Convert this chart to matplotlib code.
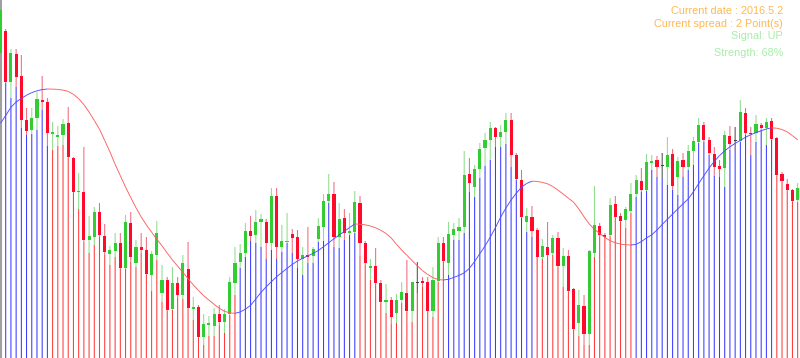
import numpy as np
import matplotlib.pyplot as plt
from matplotlib.collections import LineCollection

# candle data (price in points), one bar per entry
opens = [305, 327, 276, 304, 282, 238, 228, 240, 258, 256,
         224, 221, 223, 235, 200, 166, 166, 118, 121, 146,
         122, 104, 107, 115, 90, 135, 95, 111, 108, 83,
         103, 65, 78, 49, 75, 63, 89, 49, 51, 21,
         33, 32, 44, 36, 44, 75, 96, 105, 127, 123,
         136, 136, 115, 162, 111, 116.5, 124, 121, 99, 103,
         102, 119, 131, 157, 164, 121, 140, 125, 126, 155,
         115, 90, 92, 75, 56, 58, 45, 58, 65, 47,
         75, 77, 76, 47, 77, 115, 95, 123, 127, 131,
         184, 171, 189, 210, 218, 230, 221, 226, 238, 203,
         178, 136, 141, 128, 101, 111, 105, 120, 92, 102,
         69, 35, 52, 24, 105, 132, 123, 123, 154, 142,
         138, 147, 164, 177, 168, 195, 198, 192, 191, 204,
         181, 198, 191, 207, 216, 233, 218, 204, 192, 190,
         222, 217, 217, 245, 225, 225, 233, 230, 237, 220,
         184, 174, 168, 158]
highs = [353, 329, 309, 309, 303, 250, 250, 266, 282, 260,
         236, 232, 239, 251, 201, 185, 211, 142, 151, 155,
         134, 112, 125, 125, 143, 146, 118, 125, 121, 107,
         137, 93, 81, 91, 81, 103, 116, 61, 53, 44,
         42, 50, 53, 49, 81, 111, 114, 135, 142, 148,
         144, 139, 170, 170, 133, 145, 129, 128, 111, 131,
         111, 140, 164, 184, 176, 155, 149, 145, 167, 162,
         117, 99, 110, 78, 74, 61, 64, 76, 98, 76,
         96, 81, 81, 91, 121, 121, 136, 135, 140, 207,
         200, 193, 215, 225, 236, 231, 233, 245, 245, 205,
         188, 150, 152, 130, 119, 136, 123, 126, 110, 108,
         70, 68, 63, 108, 172, 135, 125, 160, 162, 145,
         151, 175, 183, 190, 204, 203, 202, 205, 221, 209,
         201, 205, 213, 221, 240, 236, 221, 211, 198, 227,
         232, 231, 258, 250, 231, 243, 235, 240, 240, 221,
         186, 179, 169, 175]
lows = [302, 275, 260, 271, 230, 223, 224, 228, 248, 212,
        208, 212, 213, 200, 165, 149, 116, 105, 113, 121,
        103, 93, 101, 89, 89, 96, 91, 105, 83, 67,
        98, 56, 47, 48, 60, 59, 49, 38, 20, 13,
        22, 22, 33, 25, 43, 63, 90, 101, 117, 115,
        111, 99, 108, 99, 106, 115, 105, 90, 83, 95,
        95, 116, 117, 155, 111, 110, 118, 123, 125, 102,
        93, 78, 74, 55, 45, 34, 35, 55, 46, 36,
        65, 71, 46, 41, 76, 96, 83, 118, 118, 125,
        166, 161, 180, 192, 198, 211, 211, 214, 191, 178,
        140, 126, 121, 100, 99, 101, 103, 91, 71, 66,
        28, 22, 13, 13, 101, 121, 121, 122, 140, 136,
        130, 145, 161, 166, 167, 188, 181, 181, 173, 168,
        163, 181, 188, 193, 215, 216, 203, 182, 181, 171,
        208, 208, 216, 223, 203, 216, 228, 213, 218, 182,
        176, 167, 156, 156]
closes = [348, 276, 305, 281, 238, 227, 240, 259, 256, 225,
          226, 223, 234, 201, 166, 167, 118, 122, 146, 123,
          106, 108, 115, 90, 136, 101, 111, 108, 84, 104,
          125, 78, 48, 75, 63, 95, 50, 51, 21, 34,
          35, 44, 36, 44, 76, 95, 105, 127, 122, 136,
          139, 115, 162, 111, 117, 117.5, 120, 99, 103, 101,
          109, 132, 157, 164, 121, 139, 125, 127, 156, 115,
          95, 92, 75, 56, 58, 41, 58, 66, 47, 76,
          75, 75, 47, 78, 115, 97, 124, 129, 131, 183,
          175, 189, 209, 218, 230, 221, 226, 238, 203, 179,
          141, 142, 127, 101, 112, 103, 120, 92, 102, 67,
          29, 53, 24, 107, 133, 123, 121.5, 153, 141, 137,
          149, 164, 178, 168, 196, 197, 191, 192, 203, 172,
          197, 191, 207, 217, 233, 218, 205, 191, 189, 223,
          214, 217, 246, 225, 224, 234, 230, 236, 219, 183,
          177, 168, 157, 170]
# smoothed trend line
trend = [234.7, 242.5, 250.7, 256, 259.6, 262.8, 265.4, 267.2, 268.4, 269.0,
         268.9, 268.6, 267.9, 266.6, 263.7, 259.3, 253.4, 246, 237.5, 228.8,
         217.6, 206.2, 193.7, 182.3, 170.9, 160.5, 150.3, 141.1, 133.1, 125.8,
         118.8, 112.2, 104.9, 98.1, 91.8, 85.6, 79.3, 73.1, 67.5, 62.3,
         57.9, 53.7, 49.7, 46.7, 45.1, 44.7, 46, 48.8, 52.7, 59,
         65.6, 71.2, 76.4, 81.3, 85.5, 89.6, 93.6, 97, 99.8, 102.2,
         104.6, 107.5, 111.3, 115.3, 119.2, 122.9, 126.6, 130.5, 134.0, 133.8,
         133.2, 132.0, 130.2, 127.7, 124.5, 120, 113.7, 107.9, 102.7, 97.4,
         92.2, 87.4, 83.5, 80.4, 78.4, 78.0, 78.7, 80.6, 82.6, 85.1,
         89.7, 96.5, 104.4, 112, 120.9, 130.4, 140.9, 149.9, 158, 164.8,
         170.8, 174.6, 176.8, 176.6, 175.6, 174.2, 171.5, 167.9, 163.9, 159.8,
         155.8, 149, 141.2, 134, 128.6, 124.5, 120.6, 117.3, 115.2, 113.9,
         113.2, 113.0, 113.6, 116.4, 120.1, 123.2, 128, 133.5, 138.8, 144,
         149.1, 154.3, 159, 166.3, 174.4, 182.3, 190, 196.6, 202.4, 207.2,
         211.2, 214.6, 217.7, 220.8, 223.3, 225.4, 227.3, 229.0, 230.2, 229.8,
         228.5, 226.1, 222.4, 218.1]
doji = [80, 127, 141]

info_lines = ['Current date : 2016.5.2', 'Current spread : 2 Point(s)',
              'Signal: UP', 'Strength: 68%']

o = np.array(opens, float)
h = np.array(highs, float)
l = np.array(lows, float)
c = np.array(closes, float)
t = np.array(trend, float)
x = np.arange(len(o))

up = c >= o
rising = np.r_[True, np.diff(t) >= 0]

fig = plt.figure(figsize=(8, 3.58), dpi=100)
ax = fig.add_axes([0, 0, 1, 1])
ax.set_xlim(-0.096, 153.45)
ax.set_ylim(0, 358)
ax.set_xticks([])
ax.set_yticks([])
for s in ['top', 'right', 'bottom']:
    ax.spines[s].set_visible(False)
ax.spines['left'].set_color('#a0a0a0')
ax.spines['left'].set_linewidth(2.2)

# histogram from bottom to the low, coloured by trend direction
hist_col = np.where(rising, '#3a3aff', '#ff3a3a')
ax.vlines(x, 0, l, colors=hist_col, linewidth=0.75, snap=False, zorder=1)

# wicks
wick_col = np.where(up, '#8fdc8f', '#f06a7e').astype(object)
body_col = np.where(up, '#33cc33', '#ff0a2a').astype(object)
for i in doji:
    wick_col[i] = '#505050'
    body_col[i] = '#404040'
ax.vlines(x, l, h, colors=list(wick_col), linewidth=0.75, snap=False, zorder=2)

# bodies
bottom = np.minimum(o, c)
height = np.maximum(np.abs(c - o), 1.0)
ax.bar(x, height, bottom=bottom, width=0.6, color=list(body_col),
       linewidth=0, zorder=3)

# trend line, blue while rising, red while falling
pts = np.column_stack([x, t])
segs = np.stack([pts[:-1], pts[1:]], axis=1)
seg_col = np.where(rising[1:], '#4d4dff', '#ff5c5c')
ax.add_collection(LineCollection(segs, colors=seg_col, linewidths=0.65, zorder=4))

# info text, top right
fam = ['Liberation Sans', 'DejaVu Sans']
text_cols = ['#ffb850', '#ffb850', '#a8eca8', '#a8eca8']
baselines = [14, 27, 39, 56]
for s, col, yb in zip(info_lines, text_cols, baselines):
    fig.text(783 / 800, 1 - yb / 358, s, color=col, fontsize=7.8,
             family=fam, ha='right', va='baseline')

fig.savefig('out.png', dpi=100, facecolor='white')
